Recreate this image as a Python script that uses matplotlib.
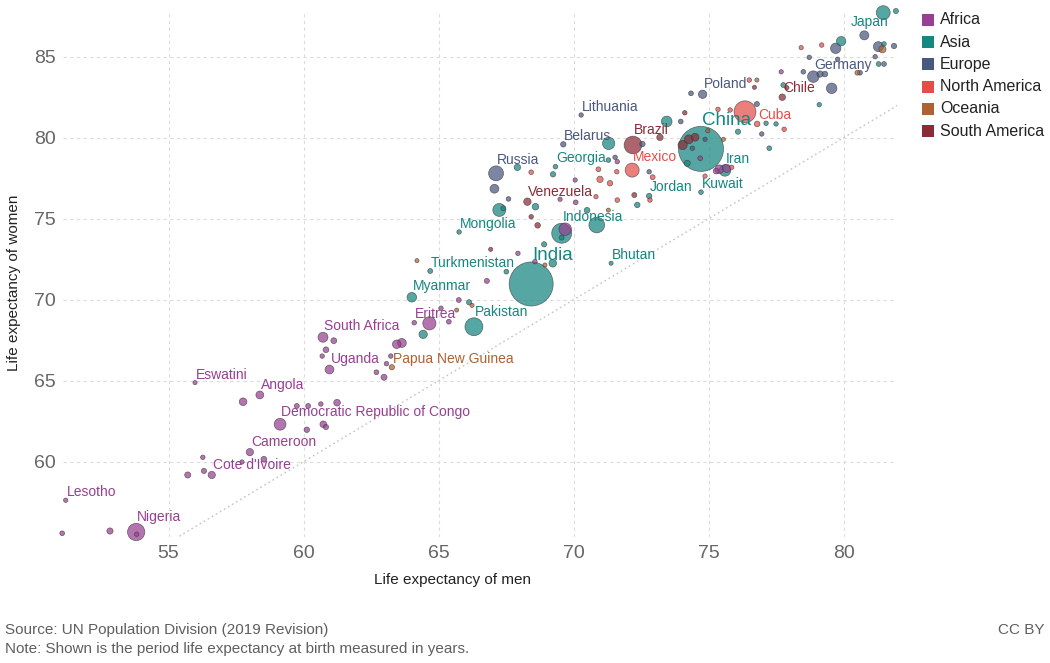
import numpy as np
import matplotlib
matplotlib.use("Agg")
import matplotlib.pyplot as plt
from matplotlib.patches import Rectangle

plt.rcParams['font.family'] = ['Liberation Sans', 'DejaVu Sans']

# ---------------- data ----------------
continents = ["Africa", "Asia", "Europe", "North America", "Oceania", "South America"]
continent_colors = ["#973f92", "#158680", "#4a5880", "#e34e48", "#ae6232", "#8c2a36"]

# labelled countries come first in each continent's arrays
africa_names = ["Nigeria", "Lesotho", "Eswatini", "Angola", "Democratic Republic of Congo",
                "Cameroon", "Cote d'Ivoire", "Uganda", "South Africa", "Eritrea"]
africa_men = [53.80, 51.19, 55.98, 58.38, 59.13, 58.01, 56.60, 60.96, 60.72, 64.10,
              51.06, 52.83, 53.82, 57.76, 59.75, 60.17, 60.64, 61.24, 60.12, 60.73,
              60.83, 58.53, 57.72, 56.27, 56.31, 55.71, 61.12, 60.83, 60.69, 62.70,
              62.98, 63.07, 63.23, 63.45, 63.64, 64.66, 65.09, 65.75, 65.38, 66.79,
              67.94, 68.57, 69.69, 70.06, 70.08, 69.50, 71.62, 74.69, 75.40, 75.28,
              75.67, 77.69]
africa_women = [55.66, 57.62, 64.88, 64.12, 62.31, 60.59, 59.18, 65.69, 67.68, 68.58,
                55.58, 55.72, 55.52, 63.70, 63.44, 63.44, 63.56, 63.64, 61.97, 62.31,
                62.14, 60.15, 59.98, 60.27, 59.43, 59.18, 67.47, 66.91, 66.52, 65.52,
                65.21, 66.05, 66.52, 67.25, 67.33, 68.54, 69.47, 69.98, 68.64, 71.16,
                72.86, 72.35, 74.35, 77.39, 76.01, 76.20, 78.52, 78.73, 78.05, 77.94,
                78.11, 84.07]
africa_pop = [201, 2.1, 1.1, 32, 87, 26, 26, 44, 59, 3.5,
              4.7, 16, 3, 30, 6, 6, 3, 20, 10, 20,
              8, 12, 2, 3, 8, 15, 13, 12, 3, 5,
              14, 3, 3, 40, 45, 112, 3, 6, 5, 7,
              3, 3, 100, 2, 5, 2, 3, 5, 43, 12,
              36, 2]

asia_names = ["India", "China", "Japan", "Iran", "Kuwait", "Georgia", "Jordan", "Mongolia",
              "Indonesia", "Bhutan", "Turkmenistan", "Myanmar", "Pakistan"]
asia_men = [68.43, 74.72, 81.47, 75.61, 74.72, 69.33, 72.80, 65.76, 69.56, 71.39, 64.69, 64.01, 66.31,
            64.43, 66.13, 67.51, 68.91, 69.23, 69.56, 70.86, 70.50, 72.36, 67.25,
            67.40, 67.92, 68.59, 69.24, 71.30, 71.29, 73.45, 74.21, 76.09, 77.13,
            77.50, 77.25, 79.10, 79.91, 81.50, 81.30, 81.94, 77.77]
asia_women = [70.97, 79.31, 87.72, 77.98, 76.64, 78.21, 76.40, 74.18, 74.10, 72.25, 71.77, 70.15, 68.33,
              67.86, 69.84, 71.73, 73.42, 72.25, 73.83, 74.61, 75.52, 75.85, 75.54,
              75.64, 78.17, 75.74, 77.74, 79.65, 78.62, 81.00, 78.42, 80.37, 80.89,
              80.85, 79.35, 82.04, 85.96, 85.79, 84.55, 87.82, 83.25]
asia_pop = [1366, 1434, 126, 83, 4.2, 4, 10, 3.2, 271, 0.8, 6, 54, 217,
            38, 8, 5, 8, 30, 6, 163, 12, 10, 108,
            6, 18, 20, 9, 96, 4, 70, 15, 8, 3,
            3, 5, 3, 51, 3, 5, 7, 6]

europe_names = ["Russia", "Belarus", "Lithuania", "Poland", "Germany"]
europe_men = [67.13, 69.62, 70.28, 74.78, 78.88,
              67.07, 67.59, 71.54, 72.55, 73.97, 74.35, 72.80, 74.40, 74.87, 76.79,
              76.97, 78.51, 79.13, 79.31, 79.56, 79.71, 80.77, 81.29, 81.87, 81.17,
              81.50, 80.61, 78.73, 79.78]
europe_women = [77.80, 79.59, 81.40, 82.68, 83.77,
                76.85, 76.22, 78.79, 79.61, 81.00, 82.74, 77.90, 79.35, 79.90, 82.08,
                80.23, 84.07, 83.93, 83.93, 83.05, 85.52, 86.32, 85.62, 85.66, 85.00,
                84.55, 84.01, 84.96, 84.84]
europe_pop = [146, 9.5, 2.8, 38, 83,
              44, 4, 3, 10, 5, 5, 3, 3, 2, 7,
              3, 4, 17, 11, 67, 65, 47, 60, 9, 3,
              5, 5, 3, 3]

namerica_names = ["Mexico", "Cuba"]
namerica_men = [72.17, 76.80,
                76.35, 70.92, 70.98, 71.35, 71.60, 71.62, 70.83, 72.93, 72.83, 68.43,
                75.35, 75.80, 74.87, 75.86, 77.80, 76.51, 78.43, 79.19]
namerica_women = [78.00, 80.85,
                  81.60, 78.05, 77.43, 77.19, 77.90, 76.15, 76.36, 77.56, 76.15, 77.87,
                  81.75, 81.71, 77.63, 78.17, 80.52, 83.56, 85.56, 85.72]
namerica_pop = [128, 11,
                329, 5, 17, 10, 3, 4, 2, 6, 3, 4,
                3, 3, 2, 2, 3, 3, 2, 3]

oceania_names = ["Papua New Guinea"]
oceania_men = [63.27, 64.20, 66.24, 65.67, 68.94, 71.29, 74.97, 75.55, 76.79, 81.44, 80.51]
oceania_women = [65.83, 72.41, 69.65, 69.36, 72.14, 75.53, 80.43, 79.90, 83.56, 85.46, 84.01]
oceania_pop = [8.8, 0.6, 1, 0.3, 0.9, 0.5, 1, 1, 1, 25, 5]

samerica_names = ["Brazil", "Venezuela", "Chile"]
samerica_men = [72.20, 68.29, 77.73,
                74.04, 74.27, 74.50, 73.20, 74.12, 72.25, 76.70, 68.43, 68.67, 66.93, 77.90]
samerica_women = [79.55, 76.05, 82.50,
                  79.55, 79.90, 80.03, 80.02, 81.54, 76.46, 83.11, 75.12, 74.59, 73.11, 83.09]
samerica_pop = [211, 28, 19,
                50, 45, 33, 18, 3, 7, 1, 3, 11, 1, 2]

x_ticks = [55, 60, 65, 70, 75, 80]
y_ticks = [60, 65, 70, 75, 80, 85]
big_labels = ["China", "India"]

groups = [
    (africa_names, africa_men, africa_women, africa_pop),
    (asia_names, asia_men, asia_women, asia_pop),
    (europe_names, europe_men, europe_women, europe_pop),
    (namerica_names, namerica_men, namerica_women, namerica_pop),
    (oceania_names, oceania_men, oceania_women, oceania_pop),
    (samerica_names, samerica_men, samerica_women, samerica_pop),
]

# ---------------- figure ----------------
W, H = 1050, 663
fig = plt.figure(figsize=(W / 100, H / 100), dpi=100)
ax = fig.add_axes([63 / W, (H - 537) / H, (897 - 63) / W, (537 - 12) / H])
ax.set_xlim(51.09, 81.98)
ax.set_ylim(55.35, 87.76)


def diam_px(pop):
    return np.sqrt(16 + 1.405 * np.asarray(pop, dtype=float))


# gather all points, draw largest first
all_x, all_y, all_p, all_c = [], [], [], []
for ci, (names, mx, wy, pp) in enumerate(groups):
    all_x += list(mx)
    all_y += list(wy)
    all_p += list(pp)
    all_c += [continent_colors[ci]] * len(mx)
all_x = np.array(all_x)
all_y = np.array(all_y)
all_p = np.array(all_p)
order = np.argsort(-all_p, kind="stable")
sizes = (diam_px(all_p) * 0.72) ** 2
ax.scatter(all_x[order], all_y[order], s=sizes[order],
           c=[all_c[i] for i in order], alpha=0.72,
           edgecolors="#3a3a3a", linewidths=0.5, zorder=3, clip_on=False)

# diagonal y = x
ax.plot([50, 90], [50, 90], color="#c4c4c4", lw=1.0, ls=(0, (1.2, 2.2)), zorder=1)

# grid & axes
ax.set_xticks(x_ticks)
ax.set_yticks(y_ticks)
ax.grid(True, color="#dcdcdc", lw=0.8, ls=(0, (3, 3)), zorder=0)
ax.set_axisbelow(True)
for sp in ax.spines.values():
    sp.set_visible(False)
ax.tick_params(length=0, labelsize=14, labelcolor="#666666")
ax.tick_params(axis="x", pad=6)
ax.tick_params(axis="y", pad=5)

# labels
for ci, (names, mx, wy, pp) in enumerate(groups):
    col = continent_colors[ci]
    for i, nm in enumerate(names):
        r = diam_px(pp[i]) / 2
        fs = 13.5 if nm in big_labels else 10
        if nm == "Japan":
            ax.annotate(nm, (mx[i], wy[i]), xytext=(4, -(r + 2) * 0.72), textcoords="offset points",
                        ha="right", va="center", fontsize=fs, color=col, zorder=5)
        else:
            ax.annotate(nm, (mx[i], wy[i]), xytext=(0.7, (r + 6) * 0.72), textcoords="offset points",
                        ha="left", va="center", fontsize=fs, color=col, zorder=5)

# axis titles
fig.text(452 / W, 1 - 580 / H, "Life expectancy of men", ha="center", va="center",
         fontsize=11, color="#222222")
fig.text(14 / W, 1 - 283 / H, "Life expectancy of women", ha="center", va="center",
         fontsize=11, color="#222222", rotation=90)

# legend
for i, (name, col) in enumerate(zip(continents, continent_colors)):
    yc = 20 + 22.2 * i
    fig.patches.append(Rectangle((922 / W, 1 - (yc + 6) / H), 12 / W, 12 / H,
                                 transform=fig.transFigure, facecolor=col, edgecolor="none"))
    fig.text(940 / W, 1 - yc / H, name, ha="left", va="center", fontsize=11.5, color="#222222")

# footer
fig.text(5 / W, 1 - 630 / H, "Source: UN Population Division (2019 Revision)",
         ha="left", va="center", fontsize=11, color="#5f5f5f")
fig.text(5 / W, 1 - 649 / H, "Note: Shown is the period life expectancy at birth measured in years.",
         ha="left", va="center", fontsize=11, color="#5f5f5f")
fig.text(1045 / W, 1 - 630 / H, "CC BY", ha="right", va="center", fontsize=11, color="#5f5f5f")

fig.savefig("out.png", dpi=100)
